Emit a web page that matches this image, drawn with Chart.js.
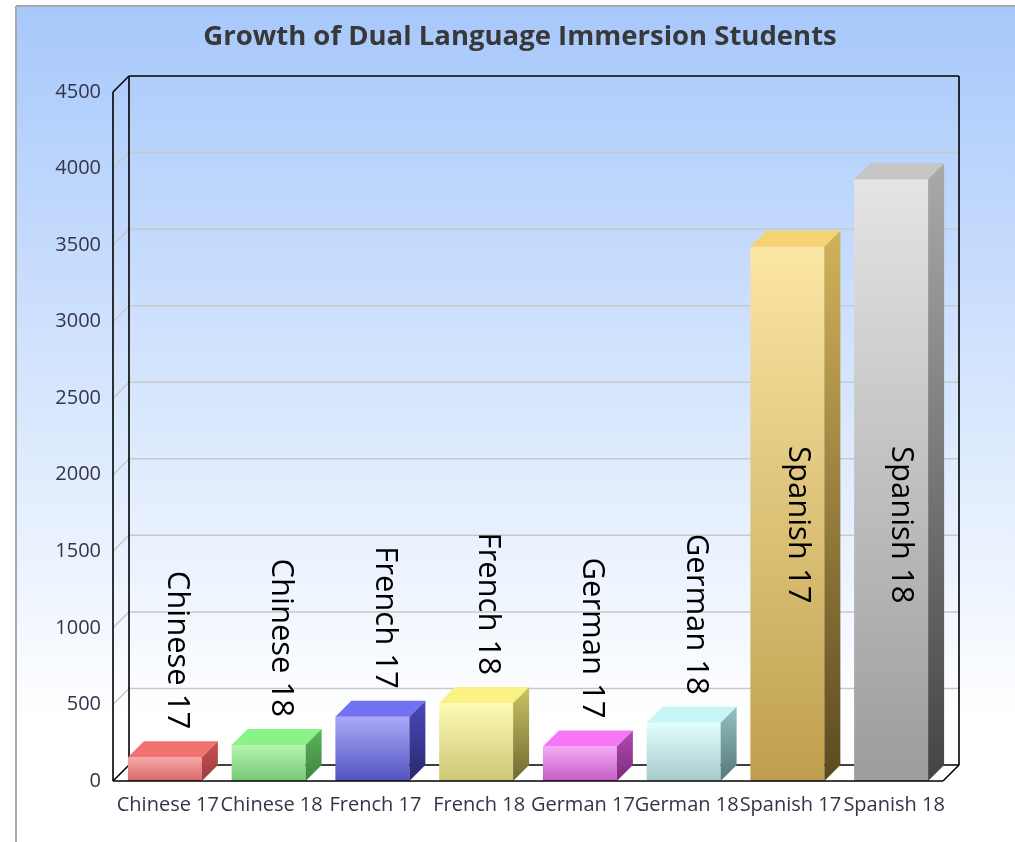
<!DOCTYPE html>
<html>
<head>
<meta charset="utf-8">
<title>Growth of Dual Language Immersion Students</title>
<script src="https://cdn.jsdelivr.net/npm/chart.js@4/dist/chart.umd.min.js"></script>
<style>
  html, body { margin: 0; padding: 0; background: #fff; }
  #wrap { width: 1015px; height: 842px; }
</style>
</head>
<body>
<div id="wrap"><canvas id="growthChart" width="1015" height="842"></canvas></div>
<script>
/* ── DATA ── */
const categories = ["Chinese 17", "Chinese 18", "French 17", "French 18", "German 17", "German 18", "Spanish 17", "Spanish 18"];
const students = [155, 235, 420, 510, 225, 380, 3490, 3930];
const yMin = 0;
const yMax = 4500;
const yStep = 500;

/* ── COLOURS (front top, front bottom, top face, side top, side bottom) ── */
const frontTop = ["#f6a8a8", "#b6f4b2", "#aaaaf8", "#fcfab4", "#f6aaf6", "#e2fefe", "#fbe6a2", "#e4e4e4"];
const frontBottom = ["#d66868", "#76c876", "#5252c0", "#cec676", "#c45cc4", "#a6caca", "#bf9f4f", "#9c9c9c"];
const topFace = ["#f27272", "#88f488", "#7272f4", "#faf284", "#f676f6", "#c8f6f6", "#f5d274", "#c6c6c6"];
const sideTop = ["#cc5252", "#5cb45c", "#4a4abc", "#ccc462", "#b448b4", "#92c2c2", "#d2b25a", "#aaaaaa"];
const sideBottom = ["#9a3c3c", "#3c843c", "#28286c", "#6e6832", "#7c2c7c", "#587676", "#5c4a20", "#444444"];

const DEPTH = 16;
const INSIDE_LABEL_AT = 1700; // labels of tall bars sit around this value
const TITLE_LEFT = 97; // title is centred over this..right edge
const tickColor = "#34344a";

function vGrad(ctx, top, bottom, c1, c2) {
  const g = ctx.createLinearGradient(0, top, 0, bottom);
  g.addColorStop(0, c1);
  g.addColorStop(1, c2);
  return g;
}

function line(ctx, x1, y1, x2, y2) {
  ctx.beginPath();
  ctx.moveTo(x1, y1);
  ctx.lineTo(x2, y2);
  ctx.stroke();
}

/* ── 3D box plugin ── */
const box3d = {
  id: "box3d",
  afterLayout(chart) {
    const tb = chart.titleBlock;
    if (tb) {
      tb.left = TITLE_LEFT;
      tb.width = tb.right - tb.left;
    }
  },
  beforeDraw(chart) {
    const { ctx, width, height } = chart;
    ctx.save();
    ctx.fillStyle = "#ffffff";
    ctx.fillRect(0, 0, width, height);
    ctx.fillStyle = vGrad(ctx, 6, 720, "#a7c8fb", "#ffffff");
    ctx.fillRect(16, 6, width - 16, height - 6);
    ctx.strokeStyle = "#a8a8a8";
    ctx.lineWidth = 2;
    line(ctx, 16, 6, width, 6);
    line(ctx, 16, 6, 16, height);
    ctx.restore();
  },
  beforeDatasetsDraw(chart) {
    const { ctx, chartArea: a } = chart;
    const ys = chart.scales.y;
    const L = a.left, R = a.right, T = a.top, B = a.bottom;
    ctx.save();
    // floor
    ctx.fillStyle = "#ffffff";
    ctx.beginPath();
    ctx.moveTo(L, B);
    ctx.lineTo(R, B);
    ctx.lineTo(R + DEPTH, B - DEPTH);
    ctx.lineTo(L + DEPTH, B - DEPTH);
    ctx.closePath();
    ctx.fill();
    // back wall grid + left wall diagonals
    ctx.strokeStyle = "#c9c9c9";
    ctx.lineWidth = 1.5;
    ys.ticks.forEach((t) => {
      if (t.value === yMin || t.value === yMax) return;
      const y = ys.getPixelForValue(t.value);
      line(ctx, L + DEPTH, y - DEPTH, R + DEPTH, y - DEPTH);
      line(ctx, L, y, L + DEPTH, y - DEPTH);
    });
    // frame
    ctx.strokeStyle = "#000000";
    ctx.lineWidth = 1.6;
    line(ctx, L + DEPTH, T - DEPTH, R + DEPTH, T - DEPTH);
    line(ctx, R + DEPTH, T - DEPTH, R + DEPTH, B - DEPTH);
    line(ctx, L + DEPTH, T - DEPTH, L + DEPTH, B - DEPTH);
    line(ctx, L, T, L + DEPTH, T - DEPTH);
    line(ctx, L, T, L, B);
    line(ctx, L + DEPTH, B - DEPTH, R + DEPTH, B - DEPTH);
    line(ctx, L, B, L + DEPTH, B - DEPTH);
    line(ctx, R, B, R + DEPTH, B - DEPTH);
    ctx.restore();
  },
  afterDatasetsDraw(chart) {
    const { ctx, chartArea: a } = chart;
    const ys = chart.scales.y;
    const meta = chart.getDatasetMeta(0);
    ctx.save();
    meta.data.forEach((bar, i) => {
      const { x, y, base, width } = bar.getProps(["x", "y", "base", "width"], true);
      const l = x - width / 2, r = x + width / 2;
      // top face
      ctx.fillStyle = topFace[i];
      ctx.beginPath();
      ctx.moveTo(l, y);
      ctx.lineTo(r, y);
      ctx.lineTo(r + DEPTH, y - DEPTH);
      ctx.lineTo(l + DEPTH, y - DEPTH);
      ctx.closePath();
      ctx.fill();
      // side face
      ctx.fillStyle = vGrad(ctx, y - DEPTH, base, sideTop[i], sideBottom[i]);
      ctx.beginPath();
      ctx.moveTo(r, y);
      ctx.lineTo(r + DEPTH, y - DEPTH);
      ctx.lineTo(r + DEPTH, base - DEPTH);
      ctx.lineTo(r, base);
      ctx.closePath();
      ctx.fill();
    });
    // front floor edge over the bars
    ctx.strokeStyle = "#000000";
    ctx.lineWidth = 1.6;
    line(ctx, a.left, a.bottom, a.right, a.bottom);

    // rotated data labels
    ctx.fillStyle = "#000000";
    ctx.font = "31px 'Open Sans'";
    ctx.textBaseline = "middle";
    meta.data.forEach((bar, i) => {
      const { x, y } = bar.getProps(["x", "y"], true);
      const v = students[i];
      const inside = ys.getPixelForValue(v) < ys.getPixelForValue(INSIDE_LABEL_AT) - 120;
      ctx.save();
      if (inside) {
        ctx.translate(x + 10, ys.getPixelForValue(INSIDE_LABEL_AT) + 4);
        ctx.rotate(Math.PI / 2);
        ctx.textAlign = "center";
      } else {
        ctx.translate(x + 12, y - DEPTH - 12);
        ctx.rotate(Math.PI / 2);
        ctx.textAlign = "right";
      }
      ctx.fillText(categories[i], 0, 0);
      ctx.restore();
    });
    ctx.restore();
  },
};

const ctx = document.getElementById("growthChart");
new Chart(ctx, {
  type: "bar",
  data: {
    labels: categories,
    datasets: [
      {
        label: "Students",
        data: students,
        borderWidth: 0,
        barPercentage: 0.713,
        categoryPercentage: 1,
        backgroundColor: (c) => {
          const chart = c.chart;
          if (!chart.chartArea || c.dataIndex === undefined) return frontBottom[c.dataIndex || 0];
          const ys = chart.scales.y;
          return vGrad(
            chart.ctx,
            ys.getPixelForValue(students[c.dataIndex]),
            ys.getPixelForValue(0),
            frontTop[c.dataIndex],
            frontBottom[c.dataIndex]
          );
        },
      },
    ],
  },
  options: {
    responsive: false,
    animation: false,
    layout: { padding: { left: 26, right: 72, top: 0, bottom: 0 } },
    plugins: {
      legend: { display: false },
      tooltip: { enabled: false },
      title: {
        display: true,
        text: "Growth of Dual Language Immersion Students",
        color: "#383838",
        font: { family: "Open Sans", size: 27.5, weight: "bold" },
        padding: { top: 21, bottom: 38 },
      },
    },
    scales: {
      x: {
        grid: { display: false, drawTicks: false },
        border: { display: false },
        ticks: {
          autoSkip: false,
          maxRotation: 0,
          minRotation: 0,
          padding: 12,
          labelOffset: 3,
          color: tickColor,
          font: { family: "Open Sans", size: 20 },
        },
        afterFit: (s) => { s.height = 61; },
      },
      y: {
        min: yMin,
        max: yMax,
        grid: { display: false, drawTicks: false },
        border: { display: false },
        ticks: {
          stepSize: yStep,
          padding: 12,
          color: tickColor,
          font: { family: "Open Sans", size: 20 },
          callback: (v) => String(v),
        },
        afterFit: (s) => { s.width = 87; },
      },
    },
  },
  plugins: [box3d],
});
</script>
</body>
</html>
